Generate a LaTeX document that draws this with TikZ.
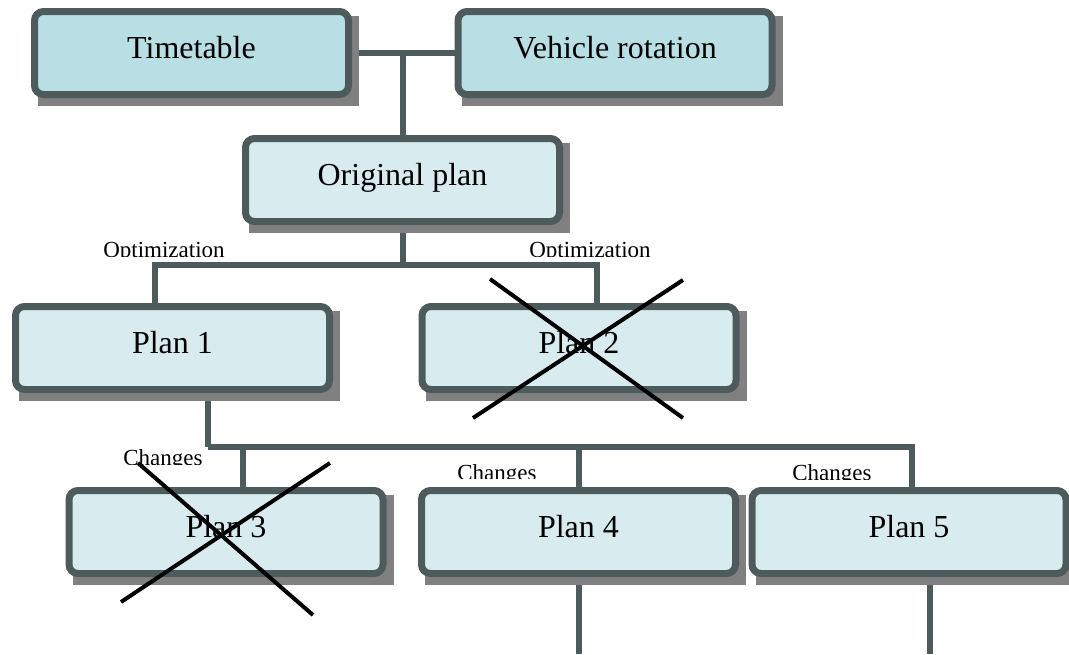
\documentclass[tikz,border=0pt]{standalone}
\usepackage{fontspec}
\setmainfont{Liberation Serif}
\pgfdeclarelayer{bg}
\pgfdeclarelayer{shadowlayer}
\pgfsetlayers{bg,shadowlayer,main}
\definecolor{bordc}{HTML}{4E5B5D}
\definecolor{topfill}{HTML}{B8DFE3}
\definecolor{lowfill}{HTML}{D8ECEF}
\definecolor{shadowc}{HTML}{808080}
\tikzset{
  planbox/.style={draw=bordc, line width=7pt, rounded corners=9pt, fill=lowfill,
    minimum width=314pt, minimum height=83pt, inner sep=0pt,
    text height=18pt, text depth=8pt, font=\fontsize{32}{36}\selectfont},
  topbox/.style={planbox, fill=topfill},
  conn/.style={draw=bordc, line width=6pt},
  xline/.style={draw=black, line width=4pt},
  smalllabel/.style={anchor=base, inner sep=0pt, font=\fontsize{23}{26}\selectfont}
}
\newcommand{\boxshadow}[1]{\fill[shadowc] ([shift={(7,8)}]#1.north west) rectangle ([shift={(7,8)}]#1.south east);}
\begin{document}
\begin{tikzpicture}[x=1pt, y=-1pt]
\useasboundingbox (0,0) rectangle (1069,654);
% boxes
\node[topbox] (tt) at (191.5,53) {Timetable};
\node[topbox] (vr) at (615,53) {Vehicle rotation};
\node[planbox] (orig) at (402.5,180) {Original plan};
\node[planbox] (p1) at (172.5,348) {Plan 1};
\node[planbox] (p2) at (579,348) {Plan 2};
\node[planbox] (p3) at (226,532) {Plan 3};
\node[planbox] (p4) at (578.5,532) {Plan 4};
\node[planbox] (p5) at (909,532) {Plan 5};
% junctions and free ends
\coordinate (j1) at (402.5,265);
\coordinate (j2) at (208,447);
\coordinate (e4) at (578.5,654);
\coordinate (e5) at (930,654);
% shadows
\begin{pgfonlayer}{shadowlayer}
\boxshadow{tt}\boxshadow{vr}\boxshadow{orig}\boxshadow{p1}
\boxshadow{p2}\boxshadow{p3}\boxshadow{p4}\boxshadow{p5}
\end{pgfonlayer}
% connectors
\begin{pgfonlayer}{bg}
\draw[conn] (tt.east) -- (vr.west);
\draw[conn] (orig.north) -- (orig.north |- tt.east);
\draw[conn] (orig.south) -- (j1);
\draw[conn] (j1) -| ([xshift=-17.5pt]p1.north);
\draw[conn] (j1) -| ([xshift=18pt]p2.north);
\draw[conn] ([xshift=35.5pt]p1.south) -- (j2);
\draw[conn] (j2) -| ([xshift=17pt]p3.north);
\draw[conn] (j2) -| (p4.north);
\draw[conn] (j2) -| ([xshift=3pt]p5.north);
\draw[conn] (p4.south) -- (e4);
\draw[conn] ([xshift=21pt]p5.south) -- (e5);
\end{pgfonlayer}
% labels (clipped at the bottom as in the original)
\begin{scope}
\clip (84,230) rectangle (244,256.5);
\node[smalllabel] (lo1) at (164,257.5) {Optimization};
\end{scope}
\begin{scope}
\clip (510,230) rectangle (670,256.5);
\node[smalllabel] (lo2) at (590,257.5) {Optimization};
\end{scope}
\begin{scope}
\clip (100,440) rectangle (226,464.5);
\node[smalllabel] (lc1) at (163,465.5) {Changes};
\end{scope}
\begin{scope}
\clip (430,455) rectangle (564,478);
\node[smalllabel] (lc2) at (497,480) {Changes};
\end{scope}
\begin{scope}
\clip (765,455) rectangle (899,479);
\node[smalllabel] (lc3) at (832,480) {Changes};
\end{scope}
% crosses
\draw[xline] (490,279) -- (683,418);
\draw[xline] (683,280) -- (473,418);
\draw[xline] (138,463) -- (313,615);
\draw[xline] (330,463) -- (121,602);
\end{tikzpicture}
\end{document}
